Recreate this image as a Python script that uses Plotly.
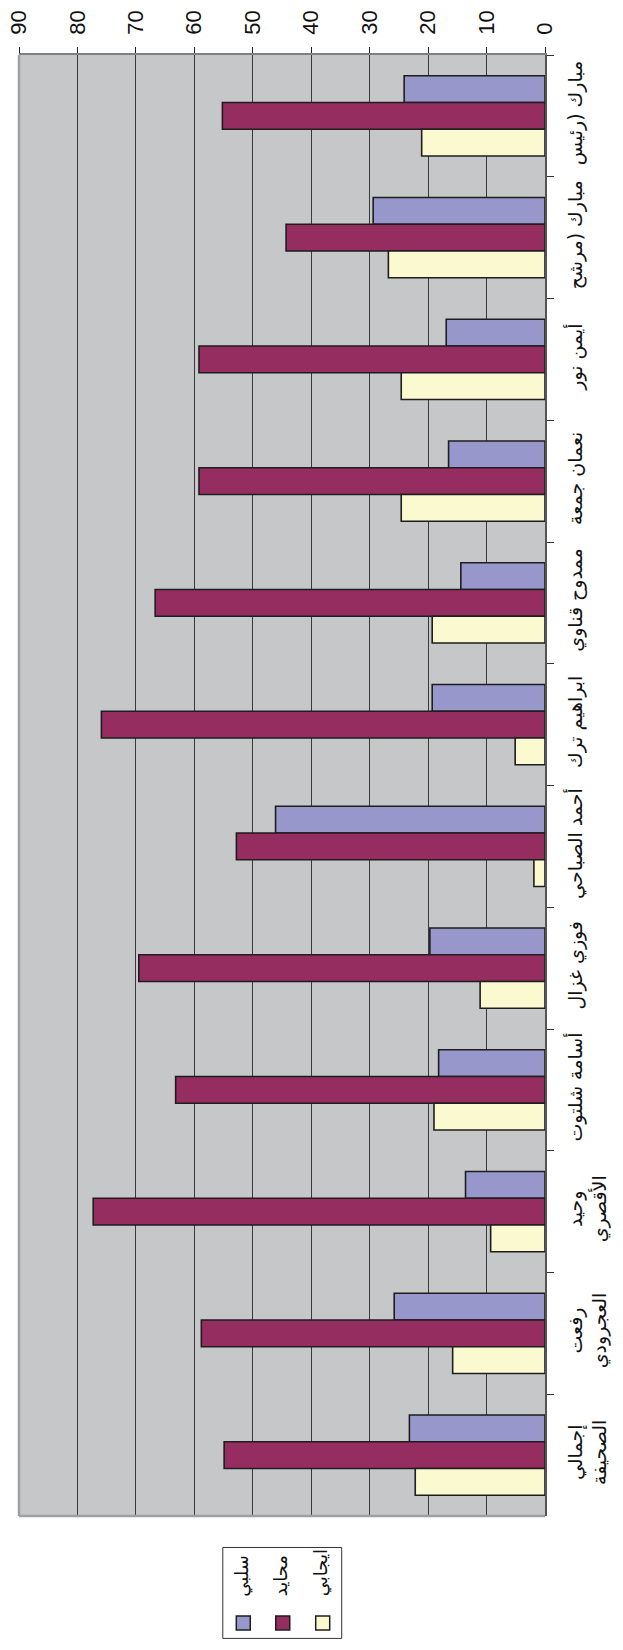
import plotly.graph_objects as go

categories = [
    "مبارك (رئيس",
    "مبارك (مرشح",
    "أيمن نور",
    "نعمان جمعة",
    "ممدوح قناوي",
    "ابراهيم ترك",
    "أحمد الصباحي",
    "فوزي غزال",
    "أسامة شلتوت",
    "وحيد<br>الأقصري",
    "رفعت<br>العجرودي",
    "إجمالي<br>الصحيفة",
]
series_names = ["سلبي", "محايد", "ايجابي"]
negative = [24.1, 29.4, 16.9, 16.5, 14.4, 19.3, 46.1, 19.7, 18.2, 13.6, 25.8, 23.2]
neutral = [55.2, 44.3, 59.2, 59.2, 66.7, 75.9, 52.8, 69.5, 63.2, 77.3, 58.8, 54.9]
positive = [21.1, 26.8, 24.6, 24.6, 19.3, 5.1, 1.9, 11.1, 19.0, 9.3, 15.8, 22.2]
x_ticks = [0, 10, 20, 30, 40, 50, 60, 70, 80, 90]

colors = ["#9797CB", "#962D61", "#FBF9CF"]

W, H = 623, 1650
L, R, T, B = 19, 545.5, 54.5, 1516.5
PW, PH = R - L, B - T


def px(xp):
    return (xp - L) / PW


def py(yp):
    return (B - yp) / PH


fig = go.Figure()
for name, vals, col in zip(series_names, [negative, neutral, positive], colors):
    fig.add_trace(go.Bar(
        x=vals, y=categories, orientation="h", name=name,
        marker=dict(color=col, line=dict(color="#1e1e1e", width=1.6)),
        showlegend=False,
    ))

fig.update_layout(
    width=W, height=H,
    margin=dict(l=L, r=W - R, t=T, b=H - B, pad=0, autoexpand=False),
    paper_bgcolor="white",
    plot_bgcolor="#C6C7C9",
    barmode="group",
    bargap=0.342,
    bargroupgap=0,
    xaxis=dict(
        range=[90, 0], side="top", tickvals=x_ticks,
        ticks="outside", ticklen=6, tickcolor="#222", tickwidth=1,
        tickangle=-90, automargin=False, ticklabeloverflow="allow",
        tickfont=dict(family="Liberation Sans, Arial", size=22, color="#111"),
        showgrid=True, gridcolor="#3a3a3a", gridwidth=1.2,
        zeroline=False, showline=True, linecolor="#808080", linewidth=1.5,
        ticklabelstandoff=8,
    ),
    yaxis=dict(
        type="category", range=[11.5, -0.5], side="right",
        tickson="boundaries", ticks="outside", ticklen=7, tickcolor="#333", tickwidth=1,
        tickangle=-90, automargin=False, ticklabeloverflow="allow",
        tickfont=dict(family="DejaVu Sans", size=19, color="#111"),
        showgrid=False, zeroline=False,
        showline=True, linecolor="#555", linewidth=1.5,
        ticklabelstandoff=12,
    ),
)

# left/bottom border of plot area
fig.add_shape(type="line", xref="paper", yref="paper", x0=0, x1=0, y0=0, y1=1,
              line=dict(color="#A0A0A0", width=2.5))
fig.add_shape(type="line", xref="paper", yref="paper", x0=0, x1=1, y0=0, y1=0,
              line=dict(color="#A0A0A0", width=2.5))

# custom rotated legend
fig.add_shape(type="rect", xref="paper", yref="paper",
              x0=px(223), x1=px(342), y0=py(1639), y1=py(1548),
              line=dict(color="#333", width=1), fillcolor="white")
legend_x = [243.5, 283, 323]
for name, col, cx in zip(series_names, colors, legend_x):
    fig.add_shape(type="rect", xref="paper", yref="paper",
                  x0=px(cx - 7), x1=px(cx + 7), y0=py(1630.5), y1=py(1616.5),
                  line=dict(color="#1e1e1e", width=1.5), fillcolor=col)
    fig.add_annotation(text=name, xref="paper", yref="paper",
                       x=px(cx - 1.5), y=py(1599), xanchor="center", yanchor="bottom",
                       textangle=-90, showarrow=False,
                       font=dict(family="DejaVu Sans", size=18, color="#111"))

fig.write_html("out.html", config={"displayModeBar": False},
               post_script="document.body.style.margin='0';")
